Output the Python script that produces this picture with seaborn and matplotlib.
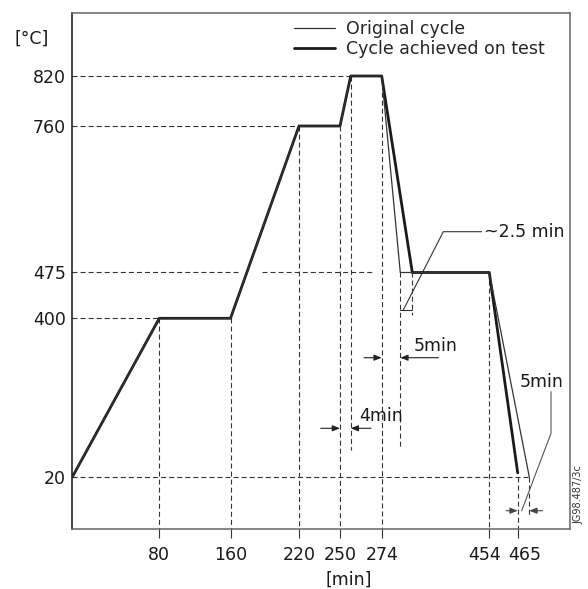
import numpy as np
import pandas as pd
import matplotlib
matplotlib.use("Agg")
import matplotlib.pyplot as plt
import matplotlib.transforms as mtransforms
from matplotlib.lines import Line2D
import seaborn as sns

# ---------------- data ----------------
time_original = [0, 80, 160, 220, 250, 254, 274, 279, 454, 470]
temp_original = [20, 400, 400, 760, 760, 820, 820, 475, 475, 20]
time_test = [0, 80, 160, 220, 250, 254, 274, 281.5, 454, 465]
temp_test = [20, 400, 400, 760, 760, 820, 820, 475, 475, 30]
x_ticks = [80, 160, 220, 250, 274, 454, 465]
y_ticks = [20, 400, 475, 760, 820]
series_labels = ["Original cycle", "Cycle achieved on test"]

# ---------------- schematic axis layout (value -> pixel anchors) ----------------
X_ANCHOR_VAL = [0, 80, 160, 220, 250, 254, 274, 279, 281.5, 454, 465, 470, 500]
X_ANCHOR_PX = [72.3, 159.3, 230.5, 299, 340, 350.7, 381.7, 400.3, 412.3, 489.3, 517.7, 529.3, 570]
Y_ANCHOR_VAL = [-104, 20, 400, 475, 760, 820, 896]
Y_ANCHOR_PX = [528.7, 477, 318.3, 272.5, 126, 76, 12.7]

W, H = 588, 589
L_PX, R_PX, T_PX, B_PX = 72.3, 570, 12.7, 528.7


def make_scale(vals, pos):
    v = np.asarray(vals, float)
    p = np.asarray(pos, float)
    v = np.concatenate([[v[0] - 1e5], v, [v[-1] + 1e5]])
    p = np.concatenate([[p[0] - 1e5], p, [p[-1] + 1e5]])
    fwd = lambda a: np.interp(a, v, p)
    inv = lambda a: np.interp(a, p, v)
    return fwd, inv


def ax_frac(px, py):
    return ((px - L_PX) / (R_PX - L_PX), (B_PX - py) / (B_PX - T_PX))


sns.set_theme(style="white")
plt.rcParams["font.family"] = ["DejaVu Sans"]
plt.rcParams["lines.scale_dashes"] = False
FS = 12.5

fig = plt.figure(figsize=(W / 100, H / 100), dpi=100)
ax = fig.add_axes([L_PX / W, 1 - B_PX / H, (R_PX - L_PX) / W, (B_PX - T_PX) / H])

ax.set_xscale("function", functions=make_scale(X_ANCHOR_VAL, X_ANCHOR_PX))
ax.set_yscale("function", functions=make_scale(Y_ANCHOR_VAL, [H - p for p in Y_ANCHOR_PX]))
ax.set_xlim(X_ANCHOR_VAL[0], X_ANCHOR_VAL[-1])
ax.set_ylim(Y_ANCHOR_VAL[0], Y_ANCHOR_VAL[-1])

# ---------------- dashed guide lines ----------------
dash = dict(color="#333333", lw=0.8, dashes=(3.6, 2.2), zorder=1)
y_bottom = Y_ANCHOR_VAL[0]
# horizontal
ax.plot([0, 254], [820, 820], **dash)
ax.plot([0, 220], [760, 760], **dash)
ax.plot([0, 166.5], [475, 475], **dash)
ax.plot([187.5, 268], [475, 475], **dash)
ax.plot([0, 80], [400, 400], **dash)
ax.plot([0, 470], [20, 20], **dash)
# vertical
for xv, ytop, ybot in [
    (80, 400, y_bottom), (160, 400, y_bottom), (220, 760, y_bottom),
    (250, 760, y_bottom), (254, 820, 85), (274, 820, y_bottom),
    (279, 475, 92), (281.5, 475, 405), (454, 475, y_bottom),
    (465, 20, y_bottom), (470, 20, -76),
]:
    ax.plot([xv, xv], [ytop, ybot], **dash)

# ---------------- data lines ----------------
df_test = pd.DataFrame({"time": time_test, "temp": temp_test})
df_orig = pd.DataFrame({"time": time_original, "temp": temp_original})
thick = dict(color="#1a1a1a", lw=2.0)
thin = dict(color="#333333", lw=0.9)
sns.lineplot(data=df_test, x="time", y="temp", ax=ax, estimator=None, sort=False,
             legend=False, zorder=3, **thick)
sns.lineplot(data=df_orig, x="time", y="temp", ax=ax, estimator=None, sort=False,
             legend=False, zorder=4, **thin)

# ---------------- annotations ----------------
def dim_arrow(x, yfrac, dx_pt, color="#222222"):
    ax.annotate("", xy=(x, yfrac), xycoords=("data", "axes fraction"),
                xytext=(dx_pt, 0), textcoords="offset points",
                arrowprops=dict(arrowstyle="-|>,head_length=0.45,head_width=0.18",
                                color=color, lw=0.8, shrinkA=0, shrinkB=0,
                                mutation_scale=10))

y5 = ax_frac(0, 357.7)[1]
dim_arrow(274, y5, -12.7)
dim_arrow(279, y5, 27.4)
y4 = ax_frac(0, 428.3)[1]
dim_arrow(250, y4, -13.9)
dim_arrow(254, y4, 14.6)
yr = ax_frac(0, 510.7)[1]
dim_arrow(465, yr, -8.4, "#444444")
dim_arrow(470, yr, 9.6, "#444444")

# ~2.5 min bracket and leader
ax.plot([279, 281.5], [413, 413], color="#333333", lw=0.8, zorder=2)
lead1 = [ax_frac(403.3, 310), ax_frac(443.3, 231.7), ax_frac(481.7, 231.7)]
ax.plot([p[0] for p in lead1], [p[1] for p in lead1], color="#333333", lw=0.8,
        transform=ax.transAxes, clip_on=False)
lead2 = [ax_frac(521.7, 510.7), ax_frac(551, 433.3), ax_frac(551, 391.7)]
ax.plot([p[0] for p in lead2], [p[1] for p in lead2], color="#555555", lw=0.8,
        transform=ax.transAxes, clip_on=False)

txt = dict(transform=ax.transAxes, ha="left", va="center", fontsize=FS, color="#1a1a1a")
ax.text(*ax_frac(484, 232), "~2.5 min", **txt)
ax.text(*ax_frac(414, 346), "5min", **txt)
ax.text(*ax_frac(359, 416), "4min", **txt)
ax.text(*ax_frac(520, 381.7), "5min", **txt)

# ---------------- axes styling ----------------
ax.set_xticks(x_ticks)
ax.set_xticklabels([str(v) for v in x_ticks])
ax.set_yticks(y_ticks)
ax.set_yticklabels([str(v) for v in y_ticks])
ax.tick_params(axis="x", length=6.5, width=0.8, color="#333333", pad=5.8,
               direction="out", labelsize=FS, labelcolor="#1a1a1a", bottom=True)
ax.tick_params(axis="y", length=0, pad=4.75, labelsize=FS, labelcolor="#1a1a1a")
ax.set_xlabel("")
ax.set_ylabel("")
ax.grid(False)
for side, sp in ax.spines.items():
    sp.set_visible(True)
    sp.set_linewidth(1.1)
    sp.set_color("#111111" if side == "left" else "#666666")

# nudge the two crowded tick labels apart, as in the reference
label_shift_pt = {454: -3.4, 465: 5.2}
for tick_val, lab in zip(x_ticks, ax.get_xticklabels()):
    if tick_val in label_shift_pt:
        lab.set_transform(lab.get_transform() + mtransforms.ScaledTranslation(
            label_shift_pt[tick_val] / 72, 0, fig.dpi_scale_trans))

handles = [Line2D([], [], **thin), Line2D([], [], **thick)]
lx, ly = ax_frac(294, 19.8)
ax.legend(handles, series_labels, loc="upper left", bbox_to_anchor=(lx, ly),
          frameon=False, fontsize=FS, handlelength=2.36, handletextpad=0.61,
          borderpad=0, borderaxespad=0, labelspacing=0.12)

fig.text(349 / W, 1 - 580 / H, "[min]", ha="center", va="center", fontsize=FS,
         color="#1a1a1a")
fig.text(32 / W, 1 - 39 / H, "[°C]", ha="center", va="center", fontsize=FS,
         color="#1a1a1a")
fig.text(578 / W, 1 - 495 / H, "JG98.487/3c", ha="center", va="center",
         rotation=90, fontsize=7, color="#333333")

fig.savefig("out.png", dpi=100)
